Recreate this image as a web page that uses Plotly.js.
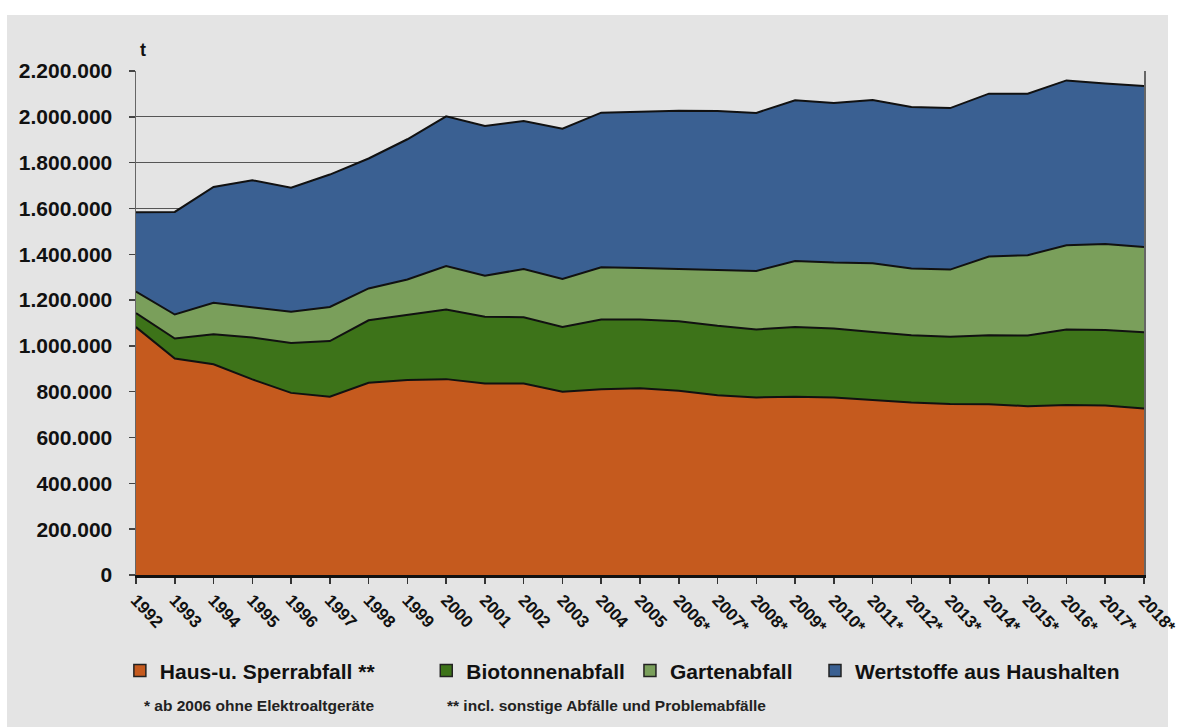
<!DOCTYPE html>
<html>
<head>
<meta charset="utf-8">
<script src="https://cdn.plot.ly/plotly-3.0.1.min.js"></script>
<style>
html,body{margin:0;padding:0;background:#ffffff;width:1187px;height:727px;overflow:hidden;}
#chart{position:absolute;left:0;top:0;width:1187px;height:727px;}
</style>
</head>
<body>
<div id="chart"></div>
<script>
var years = [1992,1993,1994,1995,1996,1997,1998,1999,2000,2001,2002,2003,2004,2005,2006,2007,2008,2009,2010,2011,2012,2013,2014,2015,2016,2017,2018];
var yearLabels = ["1992","1993","1994","1995","1996","1997","1998","1999","2000","2001","2002","2003","2004","2005","2006*","2007*","2008*","2009*","2010*","2011*","2012*","2013*","2014*","2015*","2016*","2017*","2018*"];

var hausSperr = [1082000,945000,920000,854000,795000,778000,839000,851000,855000,836000,836000,800000,811000,815000,804000,785000,775000,778000,775000,763000,753000,746000,745000,737000,742000,740000,727000];
var biotonne  = [61000,87000,131000,183000,218000,243000,273000,283000,304000,291000,289000,283000,304000,300000,304000,303000,297000,305000,301000,298000,294000,294000,302000,308000,330000,329000,333000];
var garten    = [94000,105000,137000,133000,136000,149000,139000,156000,190000,179000,211000,209000,228000,225000,227000,242000,255000,288000,288000,300000,291000,293000,343000,351000,367000,376000,372000];
var wertstoffe= [346000,448000,506000,553000,542000,578000,567000,612000,653000,654000,646000,656000,675000,681000,692000,695000,690000,701000,696000,712000,705000,705000,711000,705000,720000,700000,702000];

var seriesNames = ["Haus-u. Sperrabfall **","Biotonnenabfall","Gartenabfall","Wertstoffe aus Haushalten"];
var seriesColors = ["#c55a1e","#3d7319","#7a9f5b","#3a6092"];
var seriesValues = [hausSperr, biotonne, garten, wertstoffe];

var yTicks = [0,200000,400000,600000,800000,1000000,1200000,1400000,1600000,1800000,2000000,2200000];

var FONT = "Liberation Sans, Arial, sans-serif";

var traces = [];
for (var i = 0; i < seriesValues.length; i++) {
  traces.push({
    type: "scatter",
    mode: "lines",
    x: years,
    y: seriesValues[i],
    stackgroup: "one",
    name: seriesNames[i],
    line: {color: "#111111", width: 2},
    fillcolor: seriesColors[i],
    showlegend: false
  });
}
// legend-only square swatches, placed on a hidden overlay axis outside its range
var NB = "\u00a0";
var pads = [NB.repeat(8), "", NB.repeat(3), ""];
for (var j = 0; j < seriesNames.length; j++) {
  traces.push({
    type: "bar",
    x: [0],
    y: [0],
    xaxis: "x2",
    yaxis: "y2",
    name: seriesNames[j] + pads[j],
    marker: {color: seriesColors[j], line: {color: "#222222", width: 1.5}},
    showlegend: true
  });
}

var layout = {
  width: 1187,
  height: 727,
  margin: {l: 136, r: 43, t: 71, b: 152},
  paper_bgcolor: "#ffffff",
  plot_bgcolor: "#e9e9e9",
  separators: ",.",
  font: {family: FONT, color: "#111111"},
  xaxis: {
    range: [1992, 2018],
    tickmode: "array",
    tickvals: years,
    ticktext: yearLabels,
    tickangle: 47,
    ticks: "outside",
    ticklen: 6,
    tickwidth: 1.5,
    tickcolor: "#333333",
    ticklabeloverflow: "allow",
    showgrid: false,
    zeroline: false,
    showline: true,
    linecolor: "#111111",
    linewidth: 2.5,
    tickfont: {family: FONT, size: 17, weight: "bold", color: "#111111"},
    fixedrange: true
  },
  yaxis: {
    range: [0, 2200000],
    tickmode: "array",
    tickvals: yTicks,
    tickformat: ",d",
    ticks: "outside",
    ticklen: 6,
    tickwidth: 1.5,
    tickcolor: "#444444",
    ticklabelstandoff: 12,
    showgrid: true,
    gridcolor: "#555555",
    gridwidth: 1.2,
    zeroline: false,
    showline: true,
    mirror: true,
    linecolor: "#666666",
    linewidth: 1.5,
    tickfont: {family: FONT, size: 21, weight: "bold", color: "#111111"},
    fixedrange: true
  },
  xaxis2: {overlaying: "x", range: [5, 6], visible: false, fixedrange: true},
  yaxis2: {overlaying: "y", range: [5, 6], visible: false, fixedrange: true},
  showlegend: true,
  legend: {
    orientation: "h",
    x: -0.016,
    xanchor: "left",
    y: -0.19,
    yanchor: "middle",
    bgcolor: "rgba(0,0,0,0)",
    font: {family: FONT, size: 21, weight: "bold", color: "#111111"},
    itemwidth: 30,
    traceorder: "normal"
  },
  shapes: [
    {type: "rect", xref: "paper", yref: "paper", x0: -0.128, x1: 1.0238, y0: -0.32, y1: 1.111,
     fillcolor: "#e4e4e4", line: {width: 0}, layer: "below"}
  ],
  annotations: [
    {text: "t", xref: "paper", yref: "paper", x: 0.002, y: 1.0417, xanchor: "left", yanchor: "middle", showarrow: false,
     font: {family: FONT, size: 18, weight: "bold", color: "#111111"}},
    {text: "* ab 2006 ohne Elektroaltgeräte", xref: "paper", yref: "paper", x: 0.006, y: -0.258, xanchor: "left", yanchor: "middle", showarrow: false,
     font: {family: FONT, size: 15.5, weight: "bold", color: "#222222"}},
    {text: "** incl. sonstige Abfälle und Problemabfälle", xref: "paper", yref: "paper", x: 0.307, y: -0.258, xanchor: "left", yanchor: "middle", showarrow: false,
     font: {family: FONT, size: 15.5, weight: "bold", color: "#222222"}}
  ]
};

Plotly.newPlot("chart", traces, layout, {displayModeBar: false, staticPlot: true});
</script>
</body>
</html>
